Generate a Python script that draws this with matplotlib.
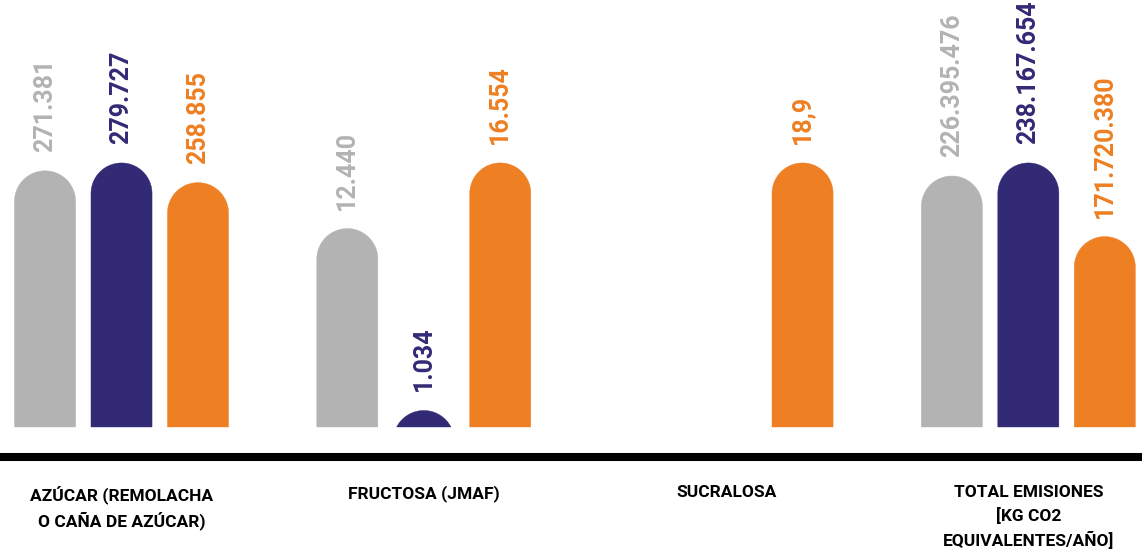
import matplotlib
matplotlib.use("Agg")
import numpy as np
import matplotlib.pyplot as plt
from matplotlib.patches import Polygon

# ---- data ----
categories = [
    "AZÚCAR (REMOLACHA\nO CAÑA DE AZÚCAR)",
    "FRUCTOSA (JMAF)",
    "SUCRALOSA",
    "TOTAL EMISIONES\n[KG CO2\nEQUIVALENTES/AÑO]",
]
serie_gris = [271381, 12440, None, 226395476]
serie_morada = [279727, 1034, None, 238167654]
serie_naranja = [258855, 16554, 18.9, 171720380]

COLORS = ["#b3b3b3", "#332a76", "#ee7f22"]
LINE_COLOR = "#000000"

W_PX, H_PX, DPI = 1142, 554, 100
BAR_W = 0.202
OFFSET = 0.253
XLIM = (-0.402, 3.376)
YLIM = (-0.481, 1.617)


def fmt(v):
    if float(v).is_integer():
        return f"{int(v):,}".replace(",", ".")
    return str(v).replace(".", ",")


def rounded_bar(x, h, rx, ry):
    # bar with a half-circle top; if the bar is shorter than the radius,
    # only the part of the circle above the baseline is kept
    cy = h - ry
    if cy >= 0:
        t = np.linspace(0, np.pi, 60)
        arc = np.column_stack([x + rx * np.cos(t), cy + ry * np.sin(t)])
        pts = np.vstack([[x + rx, 0], arc, [x - rx, 0]])
    else:
        t0 = np.arcsin(-cy / ry)
        t = np.linspace(t0, np.pi - t0, 60)
        pts = np.column_stack([x + rx * np.cos(t), cy + ry * np.sin(t)])
    return pts


fig = plt.figure(figsize=(W_PX / DPI, H_PX / DPI), dpi=DPI)
ax = fig.add_axes([0, 0, 1, 1])
ax.set_xlim(*XLIM)
ax.set_ylim(*YLIM)
ax.axis("off")

# pixels per data unit, so the caps are round on screen
ppx = W_PX / (XLIM[1] - XLIM[0])
ppy = H_PX / (YLIM[1] - YLIM[0])
r_y = (BAR_W / 2) * ppx / ppy

series = [serie_gris, serie_morada, serie_naranja]

for gi in range(len(categories)):
    vals = [s[gi] for s in series]
    gmax = max(v for v in vals if v is not None)
    for j, v in enumerate(vals):
        if v is None:
            continue
        h = v / gmax
        x = gi + (j - 1) * OFFSET
        ax.add_patch(Polygon(rounded_bar(x, h, BAR_W / 2, r_y), closed=True,
                             facecolor=COLORS[j], edgecolor=COLORS[j], linewidth=0.3))
        ax.text(x, h + 19 / ppy, fmt(v), rotation=90, ha="center", va="bottom",
                fontsize=18, fontweight="bold", family="Roboto", color=COLORS[j])

# black baseline band
ax.axhline(-30 / ppy, color=LINE_COLOR, linewidth=5.8)

# category labels
for gi, cat in enumerate(categories):
    ax.text(gi, -(485 - 427) / ppy, cat, ha="center", va="top", fontsize=12.5,
            fontweight="bold", family="Roboto", color="#000000", linespacing=1.5)

fig.savefig("out.png", dpi=DPI)
